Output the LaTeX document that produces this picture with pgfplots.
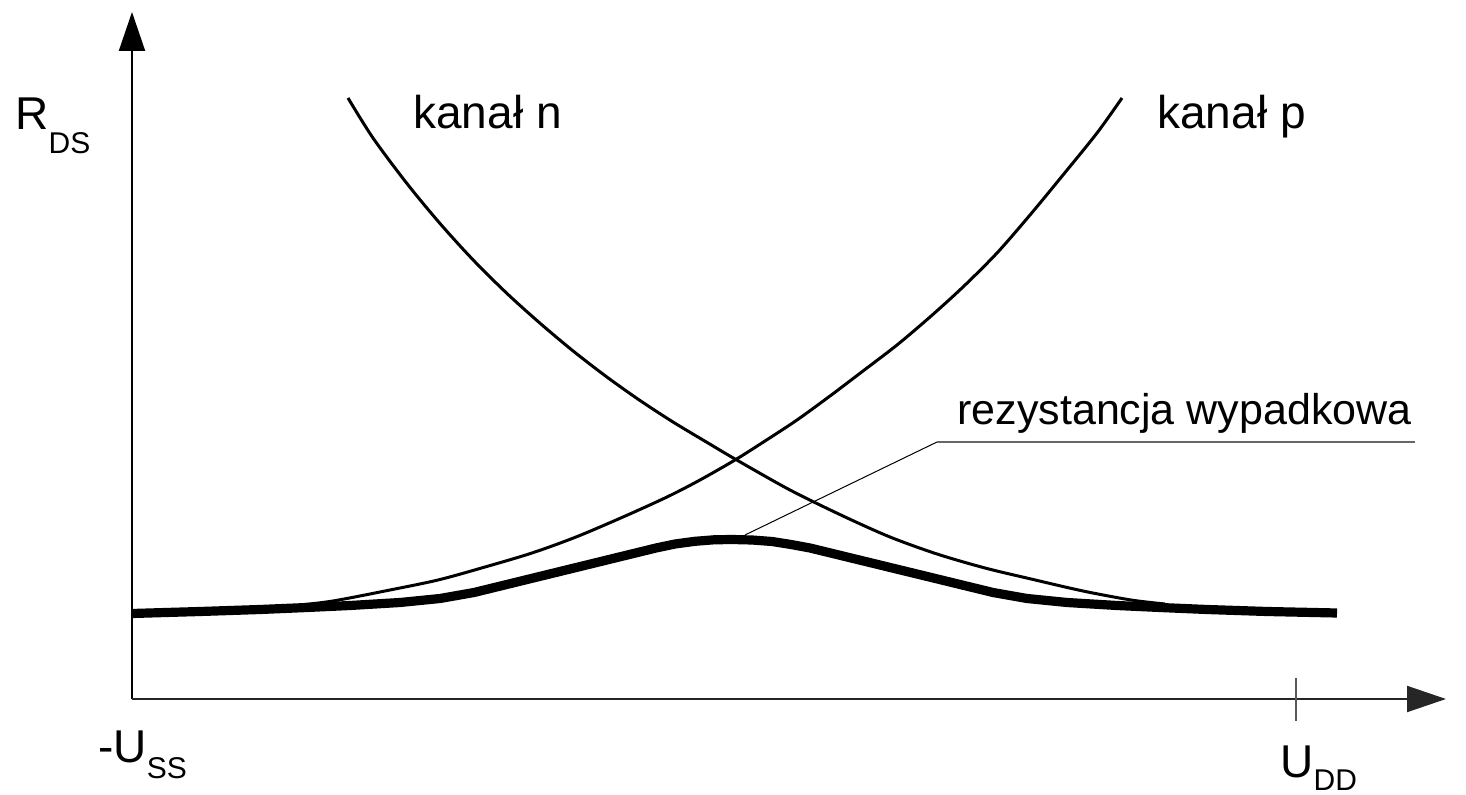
\documentclass[border=0pt]{standalone}
\usepackage{pgfplots}
\pgfplotsset{compat=1.18}
\usepackage{fontspec}
\setmainfont{Liberation Sans}
\usetikzlibrary{arrows.meta}
\begin{document}
\begin{tikzpicture}
\begin{axis}[
  scale only axis, width=733pt, height=397.5pt,
  xmin=0, xmax=1466, ymin=0, ymax=795, y dir=reverse,
  hide axis, clip=false,
]
\coordinate (bl) at (axis cs:0,795);
\coordinate (tr) at (axis cs:1466,0);
% axes
\draw[line width=1pt, -{Triangle[length=19.5pt,width=13pt]}] (axis cs:132,699) -- (axis cs:132,12);
\draw[line width=1pt, black!85, -{Triangle[length=19.5pt,width=13pt]}] (axis cs:132,699) -- (axis cs:1446,699);
\draw[line width=1pt, black!65] (axis cs:1296,678) -- (axis cs:1296,721);
% kanal n
\addplot[black, line width=1.5pt, smooth, tension=0.5] coordinates {
(348,98) (373,138) (407,183.6) (440,223.5) (473,259.8) (507,293.5) (540,323.2)
(573,350.9) (607,377.1) (640,400.5) (673,422) (707,442.4) (735,459)
(790,490) (843,516) (890,537) (937,554) (985,568) (1031,579) (1083,591) (1131,600) (1165,604)
};
% kanal p
\addplot[black, line width=1.5pt, smooth, tension=0.5] coordinates {
(300,605) (333,601) (385,591) (438,580) (485,567) (532,553) (576,537) (623,517)
(667,497) (700,480) (735,460) (765,441) (797,420) (830,396) (863,371) (897,345)
(930,317) (963,287) (997,253) (1030,215) (1063,175) (1097,133) (1122,98)
};
% rezystancja wypadkowa
\addplot[black, line width=4.6pt, line join=round] coordinates {
(132,613.5) (200,611.5) (260,609.5) (307,607.5) (350,605.5) (400,602.5) (440,598.5) (474,592.5)
(656,548) (675,544) (695,541.3) (714,539.8) (732,539.5) (752,540) (772,541.5) (791,544.5) (810,548)
(993,592.5) (1027,598.5) (1067,602.5) (1117,605.5) (1160,607.5) (1207,609.5) (1267,611.5) (1337,613)
};
% leader
\draw[line width=0.5pt] (axis cs:745,535) -- (axis cs:937,442);
\draw[line width=1pt, black!60] (axis cs:937,442) -- (axis cs:1415,442);
% labels
\fontsize{23}{27}\selectfont
\node[anchor=base west, inner sep=0] at (axis cs:15,130) {R\raisebox{-12pt}{\fontsize{15}{18}\selectfont DS}};
\node[anchor=base west, inner sep=0] at (axis cs:413,129) {kanał n};
\node[anchor=base west, inner sep=0] at (axis cs:1157,129) {kanał p};
\node[anchor=base west, inner sep=0] at (axis cs:957,425) {\fontsize{21.5}{25}\selectfont rezystancja wypadkowa};
\node[anchor=base west, inner sep=0] at (axis cs:98,762) {-U\raisebox{-8pt}{\fontsize{15}{18}\selectfont SS}};
\node[anchor=base west, inner sep=0] at (axis cs:1280,777) {U\raisebox{-6.5pt}{\fontsize{15}{18}\selectfont DD}};
\end{axis}
\pgfresetboundingbox
\path (bl) rectangle (tr);
\end{tikzpicture}
\end{document}
